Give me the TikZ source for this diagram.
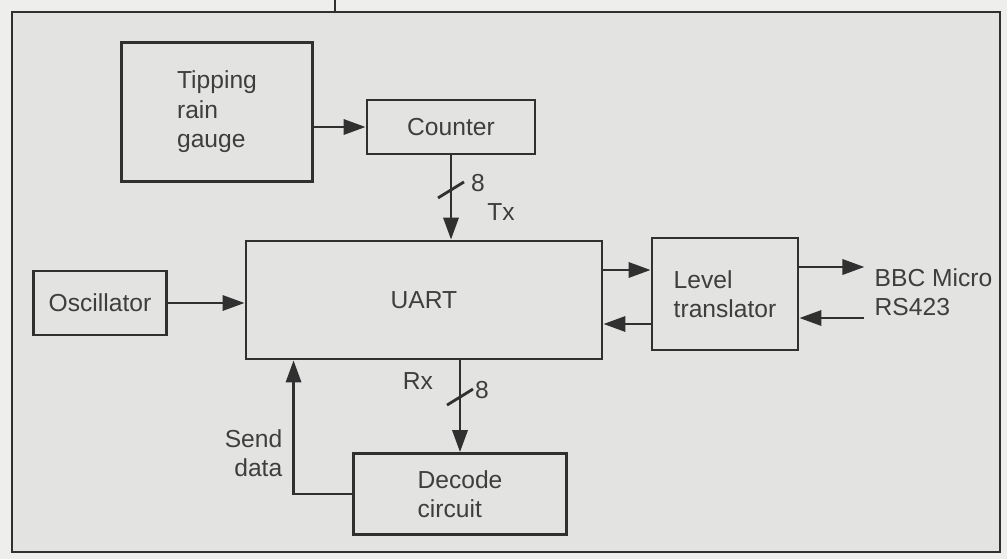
\documentclass[tikz,border=0pt]{standalone}
\usepackage{fontspec}
\setmainfont{Liberation Sans}
\usetikzlibrary{positioning,arrows.meta,calc}
\definecolor{paper}{RGB}{227,227,225}
\definecolor{margin}{RGB}{238,238,236}
\definecolor{ink}{RGB}{48,48,48}
\definecolor{inktext}{RGB}{62,62,62}

\begin{document}
\begin{tikzpicture}[
    x=0.025cm, y=-0.025cm,
    every node/.style={font=\fontsize{17.5}{21}\selectfont, text=inktext},
    blk/.style={draw=ink, line width=2pt, align=left, inner sep=0pt},
    arrow/.style={-{Triangle[length=5.5mm,width=3.8mm]}, draw=ink, line width=2pt},
    wire/.style={draw=ink, line width=2pt},
    lbl/.style={inner sep=0pt, align=left}
  ]
  \useasboundingbox (0,0) rectangle (1007,559);
  \fill[margin] (0,0) rectangle (1007,559);
  \draw[wire, fill=paper] (12,12) rectangle (1000,552);
  \draw[wire] (335,0) -- (335,12);

  % blocks
  \node[blk, minimum width=4.775cm, minimum height=3.475cm] (gauge) at (217,112) {Tipping\\rain\\gauge};
  \node[blk, minimum width=4.2cm, minimum height=1.35cm] (cnt) at (451,127) {Counter};
  \node[blk, minimum width=8.9cm, minimum height=2.95cm] (uart) at (424,300) {UART};
  \node[blk, minimum width=3.325cm, minimum height=1.6cm] (osc) at (100,303) {Oscillator};
  \node[blk, minimum width=3.65cm, minimum height=2.8cm] (lt) at (725,294) {Level\\translator};
  \node[blk, minimum width=5.325cm, minimum height=2.025cm] (dec) at (460,494) {Decode\\circuit};

  \node[lbl, anchor=west] (bbc) at ($(lt.east)+(75,-2)$) {BBC Micro\\RS423};
  \node[lbl, align=right, anchor=east] (snd) at ($(uart.south west)+(38,93)$) {Send\\data};

  % connections
  \draw[arrow] (gauge.east |- cnt.west) -- (cnt.west);
  \draw[arrow] (cnt.south) -- coordinate[pos=0.41] (txs) (cnt.south |- uart.north);
  \draw[arrow] (osc.east) -- (osc.east -| uart.west);

  \coordinate (tx1) at ($(uart.east)+(0,-30)$);
  \coordinate (rx1) at ($(uart.east)+(0,24)$);
  \draw[arrow] (tx1) -- (tx1 -| lt.west);
  \draw[arrow] (rx1 -| lt.west) -- (rx1);

  \coordinate (bbcout) at ($(lt.east)+(65,-27)$);
  \coordinate (bbcin) at ($(lt.east)+(65,24)$);
  \draw[arrow] (bbcout -| lt.east) -- (bbcout);
  \draw[arrow] (bbcin) -- (bbcin -| lt.east);

  \draw[arrow] (dec.north |- uart.south) -- coordinate[pos=0.4] (rxs) (dec.north);
  \draw[arrow] (dec.west) -| ($(uart.south west)+(49,0)$);

  % bus widths
  \draw[wire] ($(txs)+(-13,8)$) -- ($(txs)+(13,-8)$);
  \draw[wire] ($(rxs)+(-13,8)$) -- ($(rxs)+(13,-8)$);
  \node[lbl] (txw) at ($(txs)+(27,-7)$) {8};
  \node[lbl] (txn) at ($(txs)+(50,22)$) {Tx};
  \node[lbl] (rxw) at ($(rxs)+(22,-7)$) {8};
  \node[lbl] (rxn) at ($(rxs)+(-42,-16)$) {Rx};
\end{tikzpicture}
\end{document}
